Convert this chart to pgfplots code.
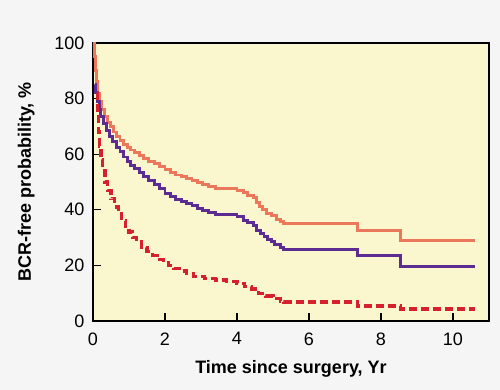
\documentclass[border=0pt]{standalone}
\usepackage{fontspec}
\setmainfont{Liberation Sans}
\usepackage{pgfplots}
\pgfplotsset{compat=1.18}
\definecolor{bgout}{RGB}{245,245,245}
\definecolor{bgin}{RGB}{250,246,205}
\definecolor{corange}{RGB}{236,120,92}
\definecolor{cpurple}{RGB}{92,44,146}
\definecolor{cred}{RGB}{214,32,46}
\begin{document}
\begin{tikzpicture}
\fill[bgout] (-93bp,-69bp) rectangle (407bp,321bp);
\begin{axis}[
  scale only axis,
  width=396bp, height=278bp,
  xmin=0, xmax=11, ymin=0, ymax=100,
  xtick={0,2,4,6,8,10}, ytick={0,20,40,60,80,100},
  tick align=inside, xtick pos=bottom, ytick pos=left,
  major tick length=8bp,
  tick style={black, line width=1.2bp},
  axis line style={black, line width=1.3bp},
  axis background/.style={fill=bgin},
  ticklabel style={font=\fontsize{18bp}{21bp}\selectfont},
  /pgf/number format/assume math mode=true,
  xticklabel style={yshift=-8bp},
  yticklabel style={xshift=-5bp},
  xlabel={\bfseries Time since surgery, Yr},
  ylabel={\bfseries BCR-free probability, \%},
  label style={font=\fontsize{18bp}{21bp}\selectfont},
  xlabel style={yshift=-8bp},
  ylabel style={yshift=13bp},
  clip=true,
]
\addplot[const plot, corange, line width=2.9bp] coordinates {
(0,100) (0.03,95) (0.06,90) (0.09,86) (0.13,82) (0.18,79) (0.25,76) (0.32,73.5)
(0.40,71.5) (0.48,70) (0.56,68) (0.65,66.5) (0.75,65) (0.85,63.5) (0.95,62.5)
(1.05,61.5) (1.15,60.5) (1.28,59.5) (1.40,58.5) (1.55,57.5) (1.70,56.5) (1.85,55.5)
(2.00,54.5) (2.15,53.5) (2.30,52.5) (2.45,52) (2.6,51.2) (2.75,50.5) (2.9,49.7)
(3.05,49) (3.2,48.3) (3.4,47.8) (4.0,47) (4.17,46.2) (4.3,45.3) (4.45,44.5)
(4.55,42.5) (4.62,41.2) (4.72,40) (4.83,38.8) (4.95,37.8) (5.1,36.5) (5.2,35.8)
(5.3,35.2) (7.35,32.7) (8.55,28.8) (10.6,28.8)
};
\addplot[const plot, cpurple, line width=2.9bp] coordinates {
(0.05,85) (0.08,82) (0.12,79) (0.17,76) (0.22,73.5) (0.3,71) (0.38,68.5) (0.46,66.5)
(0.55,64.5) (0.65,62.5) (0.75,61) (0.85,59) (0.95,57.5) (1.05,56) (1.15,54.8)
(1.28,53.5) (1.4,52) (1.55,50.5) (1.7,49) (1.85,47.5) (2.0,46) (2.15,44.8)
(2.3,43.8) (2.45,43) (2.6,42.2) (2.75,41.4) (2.9,40.6) (3.05,39.8) (3.2,39)
(3.4,38.3) (4.0,37.5) (4.17,36.3) (4.3,35.5) (4.45,34.3) (4.55,32.5) (4.65,31.5)
(4.75,30.5) (4.85,29.3) (4.95,28.5) (5.05,27.5) (5.2,26.5) (5.3,25.6)
(7.35,23.7) (8.55,19.6) (10.6,19.6)
};
\addplot[const plot, cred, line width=3.3bp, dash pattern=on 8bp off 4bp] coordinates {
(0.1,82) (0.12,75) (0.15,68) (0.18,63) (0.22,58) (0.27,54) (0.33,50) (0.4,47)
(0.5,44) (0.6,41) (0.7,38.5) (0.8,36) (0.9,34) (1.0,32) (1.1,30) (1.2,28.5)
(1.35,26.5) (1.5,25) (1.65,23.5) (1.8,22) (1.95,21) (2.1,20) (2.25,19) (2.4,18)
(2.6,17) (2.8,16) (3.1,15.3) (3.4,14.8) (3.7,14.2) (4.0,13.5) (4.2,12.5)
(4.4,11.5) (4.6,10) (4.8,9) (5.0,8) (5.2,7.2) (5.3,6.8) (7.35,5.4) (8.55,4.3)
(10.6,4.3)
};
\end{axis}
\end{tikzpicture}
\end{document}
